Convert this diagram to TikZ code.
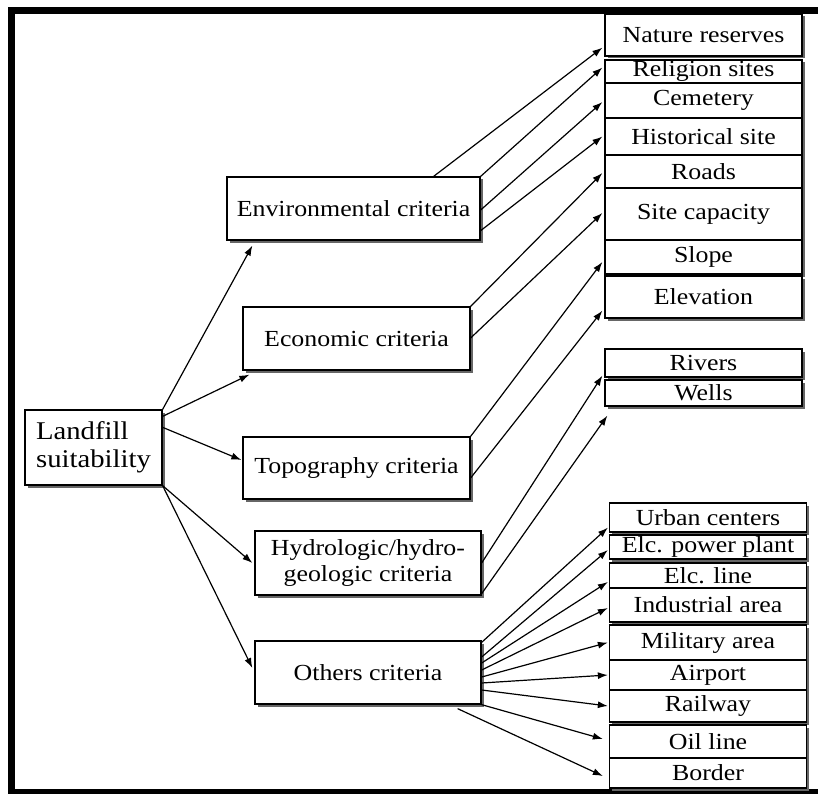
\documentclass[tikz,border=0pt]{standalone}
\usepackage{fontspec}
\setmainfont[FakeStretch=1.125]{Liberation Serif}
\usetikzlibrary{arrows.meta,calc,shadows}

\begin{document}
\begin{tikzpicture}[x=1pt, y=-1pt,
    >={Latex[length=10pt,width=7pt]},
    crit/.style={draw=black, fill=white, line width=1.3pt, inner sep=0pt,
        drop shadow={shadow xshift=2.5pt, shadow yshift=-2.5pt, fill=black!60, opacity=1},
        font=\fontsize{23}{25.5}\selectfont},
    item/.style={crit, minimum width=197pt},
    link/.style={->, line width=1.2pt}]
    \useasboundingbox (0,0) rectangle (818,794);
    % outer frame (open on the right)
    \fill (8,7) rectangle (818,14);
    \fill (8,7) rectangle (15,794);
    \fill (8,789) rectangle (818,794);

    % root and criteria
    \node[crit, minimum width=137pt, minimum height=75pt, align=left,
          font=\fontsize{25.5}{28}\selectfont] (land) at (93.5,447.5) {Landfill\\suitability};
    \node[crit, minimum width=253pt, minimum height=63pt] (env) at (353.5,208.5) {Environmental criteria};
    \node[crit, minimum width=227pt, minimum height=63pt] (eco) at (356.5,338.5) {Economic criteria};
    \node[crit, minimum width=227pt, minimum height=62pt] (topo) at (356.5,468) {Topography criteria};
    \node[crit, minimum width=226pt, minimum height=64pt, align=center] (hyd) at (368,563) {Hydrologic/hydro-\\geologic criteria};
    \node[crit, minimum width=226pt, minimum height=63pt] (oth) at (368,672.5) {Others criteria};

    % upper column
    \node[item, minimum height=42pt] (nr) at (703.5,35) {Nature reserves};
    \node[item, minimum height=23pt] (rel) at (703.5,71.5) {Religion sites};
    \node[item, minimum height=35pt] (cem) at (703.5,100.5) {Cemetery};
    \node[item, minimum height=37pt] (hist) at (703.5,136.5) {Historical site};
    \node[item, minimum height=33pt] (roads) at (703.5,171.5) {Roads};
    \node[item, minimum height=52pt] (cap) at (703.5,214) {Site capacity};
    \node[item, minimum height=34pt] (slope) at (703.5,257) {Slope};
    \node[item, minimum height=42pt] (elev) at (703.5,297) {Elevation};
    \node[item, minimum height=28pt] (riv) at (703.5,363) {Rivers};
    \node[item, minimum height=26pt] (wells) at (703.5,393) {Wells};

    % lower column
    \node[item, minimum height=29pt] (urban) at (708,517.5) {Urban centers};
    \node[item, minimum height=24pt] (power) at (708,547) {Elc. power plant};
    \node[item, minimum height=25pt] (eline) at (708,575.5) {Elc. line};
    \node[item, minimum height=34pt] (ind) at (708,605) {Industrial area};
    \node[item, minimum height=35pt] (mil) at (708,642.5) {Military area};
    \node[item, minimum height=30pt] (air) at (708,675) {Airport};
    \node[item, minimum height=32pt] (rail) at (708,706) {Railway};
    \node[item, minimum height=33pt] (oil) at (708,741.5) {Oil line};
    \node[item, minimum height=30pt] (border) at (708,773) {Border};

    % root to criteria
    \draw[link] (land.north east) -- ($(env.south west)+(26,5)$);
    \draw[link] ($(land.north east)+(0,7)$) -- ($(eco.south west)+(7,4)$);
    \draw[link] ($(land.north east)+(0,18)$) -- ($(topo.west)+(-1,-8)$);
    \draw[link] (land.south east) -- ($(hyd.west)+(-2,0)$);
    \draw[link] (land.south east) -- ($(oth.west)+(-2,-4.5)$);

    % environmental
    \draw[link] ($(env.north east)+(-47,0)$) -- ($(nr.south west)+(-2,-9)$);
    \draw[link] (env.north east) -- ($(rel.west)+(-2,-4)$);
    \draw[link] ($(env.east)+(0,1.5)$) -- ($(cem.west)+(-2,1.5)$);
    \draw[link] ($(env.south east)+(0,-10)$) -- ($(hist.west)+(-2,0)$);
    % economic
    \draw[link] (eco.north east) -- ($(roads.west)+(-2,1.5)$);
    \draw[link] ($(eco.east)+(0,-0.5)$) -- ($(cap.west)+(-2,-1)$);
    % topography
    \draw[link] (topo.north east) -- ($(slope.west)+(-2,5)$);
    \draw[link] ($(topo.east)+(0,10)$) -- ($(elev.south west)+(-2,-8)$);
    % hydrologic
    \draw[link] (hyd.east) -- ($(riv.south west)+(-2,-2)$);
    \draw[link] ($(hyd.south east)+(0,-2)$) -- ($(wells.south west)+(3,9)$);
    % others
    \draw[link] ($(oth.north east)+(0,2)$) -- ($(urban.south west)+(-1,-5)$);
    \draw[link] ($(oth.east)+(0,-15.5)$) -- ($(power.west)+(-1,3)$);
    \draw[link] ($(oth.east)+(0,-9.5)$) -- ($(eline.west)+(-1,6.5)$);
    \draw[link] ($(oth.east)+(0,-2.5)$) -- ($(ind.west)+(-1,3)$);
    \draw[link] ($(oth.east)+(0,4.5)$) -- ($(mil.west)+(-1,0)$);
    \draw[link] ($(oth.east)+(0,10.5)$) -- ($(air.west)+(-1,0)$);
    \draw[link] ($(oth.east)+(0,17.5)$) -- ($(rail.west)+(-1,0)$);
    \draw[link] (oth.south east) -- ($(oil.west)+(-6,-2.5)$);
    \draw[link] ($(oth.south east)+(-24,4)$) -- ($(border.west)+(-6,3)$);
\end{tikzpicture}
\end{document}
